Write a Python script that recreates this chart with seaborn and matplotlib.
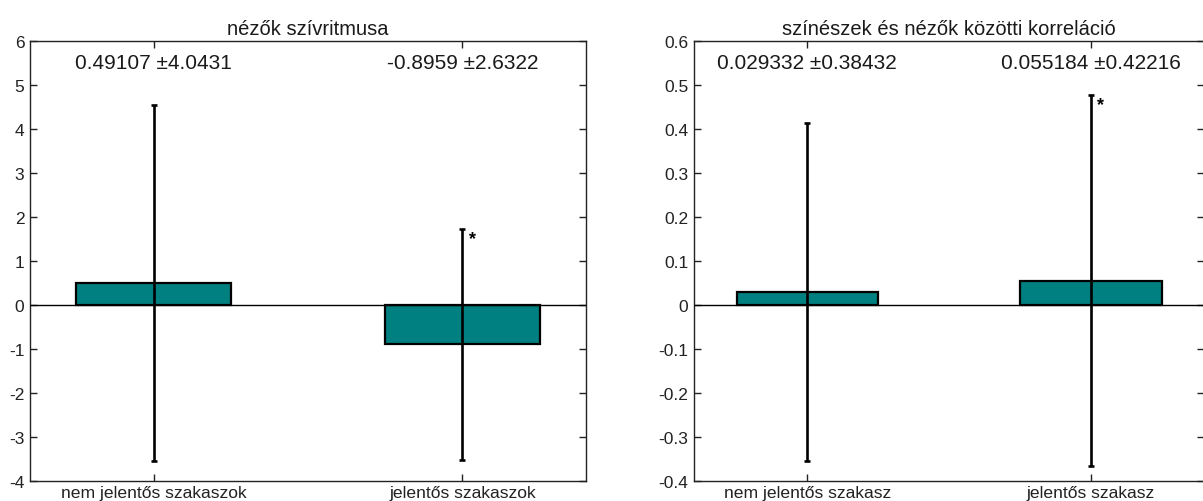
import matplotlib
matplotlib.use("Agg")
import matplotlib.pyplot as plt
import seaborn as sns
import pandas as pd

# Heart-rate panel
hr_labels = ["nem jelentős szakaszok", "jelentős szakaszok"]
hr_means = [0.49107, -0.8959]
hr_sds = [4.0431, 2.6322]
hr_title = "nézők szívritmusa"

# Actor–audience correlation panel
corr_labels = ["nem jelentős szakasz", "jelentős szakasz"]
corr_means = [0.029332, 0.055184]
corr_sds = [0.38432, 0.42216]
corr_title = "színészek és nézők közötti korreláció"

# which bar carries a significance star
significant = [False, True]

sns.set_theme(style="white")
plt.rcParams["font.family"] = ["Liberation Sans", "DejaVu Sans"]

W, H = 1203, 502
fig = plt.figure(figsize=(W / 100, H / 100), dpi=100)
ax1 = fig.add_axes([30 / W, 20 / H, 556 / W, 440 / H])
ax2 = fig.add_axes([694 / W, 20 / H, 510 / W, 440 / H])

BAR_COLOR = "#008080"


def draw_panel(ax, labels, means, sds, title, ylim, yticks, label_y, fmt_ticks):
    df = pd.DataFrame({"cat": labels, "val": means})
    sns.barplot(data=df, x="cat", y="val", order=labels, color=BAR_COLOR,
                saturation=1, width=0.5, edgecolor="black", linewidth=1.6,
                errorbar=None, ax=ax, zorder=2)
    xs = list(range(len(labels)))
    ax.axhline(0, color="black", lw=1.0, zorder=3)
    ax.errorbar(xs, means, yerr=sds, fmt="none", ecolor="black",
                elinewidth=1.9, capsize=2.3, capthick=1.9, zorder=4)
    for x, m, s, sig in zip(xs, means, sds, significant):
        ax.text(x, label_y, f"{m:.5g} \u00b1{s:.5g}", ha="center", va="center",
                fontsize=15, color="#1a1a1a")
        if sig:
            ax.annotate("*", xy=(x, m + s), xytext=(10, -10),
                        textcoords="offset pixels", ha="center", va="center",
                        fontsize=13, fontweight="bold", color="black")
    ax.set_xlim(-0.4, 1.4)
    ax.set_ylim(*ylim)
    ax.set_yticks(yticks)
    ax.set_yticklabels([fmt_ticks(t) for t in yticks])
    ax.set_xticks(xs)
    ax.set_xticklabels(labels)
    ax.set_xlabel("")
    ax.set_ylabel("")
    ax.set_title(title, fontsize=14.5, pad=5, color="#1a1a1a")
    ax.tick_params(axis="both", direction="in", length=5, width=1,
                   color="#222222", labelsize=12.5, labelcolor="#222222",
                   top=True, right=True, bottom=True, left=True, pad=4)
    ax.tick_params(axis="x", labelsize=12.6, pad=3)
    for sp in ax.spines.values():
        sp.set_color("#222222")
        sp.set_linewidth(1.0)
        sp.set_visible(True)


draw_panel(ax1, hr_labels, hr_means, hr_sds, hr_title, (-4, 6),
           list(range(-4, 7)), 5.5, lambda t: f"{t:g}")
draw_panel(ax2, corr_labels, corr_means, corr_sds, corr_title, (-0.4, 0.6),
           [round(-0.4 + 0.1 * i, 1) for i in range(11)], 0.55,
           lambda t: f"{t:g}")

fig.savefig("out.png", dpi=100)
